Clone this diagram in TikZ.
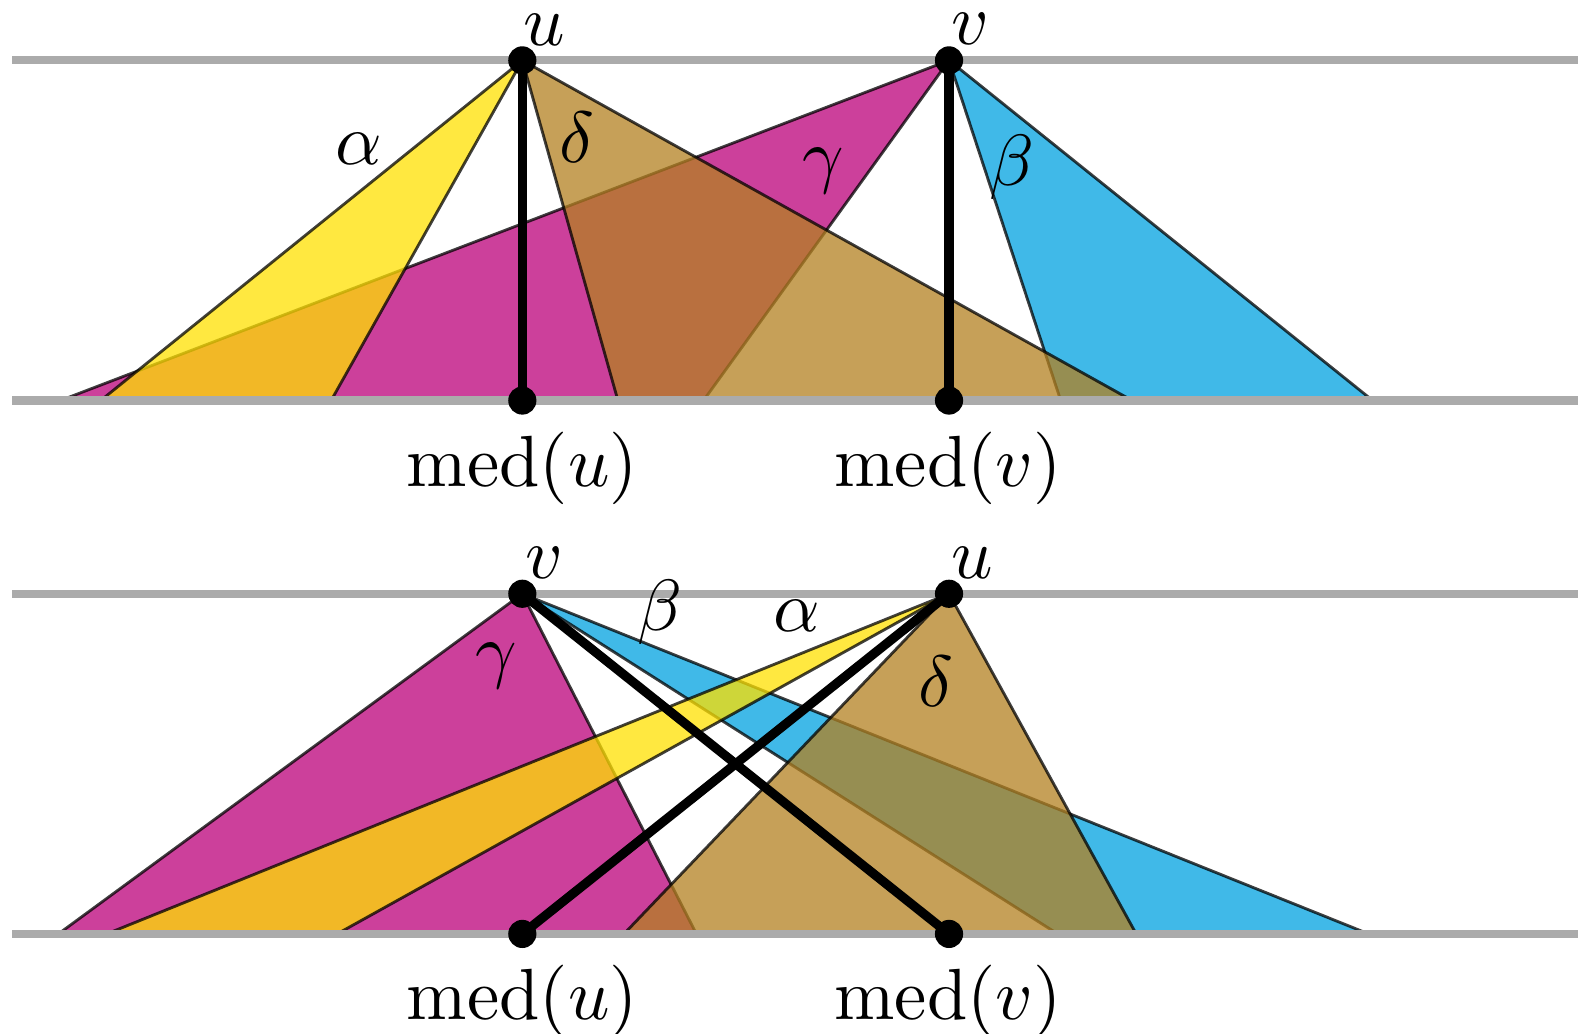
\documentclass[tikz,border=0pt]{standalone}
\definecolor{alphacol}{RGB}{255,224,0}
\definecolor{betacol}{RGB}{0,162,224}
\definecolor{gammacol}{RGB}{187,0,122}
\definecolor{deltacol}{RGB}{179,128,32}
\begin{document}
\begin{tikzpicture}[every node/.style={inner sep=0pt},
	lbl/.style={scale=2.05},
	wedge/.style={draw=black, thick, opacity=.75, line join=round},
	layer/.style={line width=2.3pt, black!33},
	medline/.style={line width=2.6pt},
	dot/.style={circle, fill, inner sep=0pt, minimum size=0.28cm}]
	\useasboundingbox (0,0) rectangle (15.68,10.27);

	% upper picture
	\coordinate (u1) at (5.19,9.67);
	\coordinate (v1) at (9.43,9.67);
	\coordinate (mu1) at (5.19,6.29);
	\coordinate (mv1) at (9.43,6.29);
	\filldraw[wedge, fill=gammacol] (v1) -- (0.60,6.29) -- (6.99,6.29) -- cycle;
	\filldraw[wedge, fill=betacol] (v1) -- (10.54,6.29) -- (13.64,6.29) -- cycle;
	\filldraw[wedge, fill=alphacol] (u1) -- (1.00,6.29) -- (3.29,6.29) -- cycle;
	\filldraw[wedge, fill=deltacol] (u1) -- (6.14,6.29) -- (11.25,6.29) -- cycle;
	\draw[layer] (0.12,9.67) -- (15.68,9.67);
	\draw[layer] (0.12,6.29) -- (15.68,6.29);
	\draw[medline] (u1) -- (mu1);
	\draw[medline] (v1) -- (mv1);
	\node[dot] (du1) at (u1) {};
	\node[dot] (dv1) at (v1) {};
	\node[dot] (dmu1) at (mu1) {};
	\node[dot] (dmv1) at (mv1) {};
	\node[lbl] (lu1) at (5.41,9.97) {$u$};
	\node[lbl] (lv1) at (9.64,9.98) {$v$};
	\node[lbl] (la1) at (3.57,8.79) {$\alpha$};
	\node[lbl] (ld1) at (5.73,8.91) {$\delta$};
	\node[lbl] (lg1) at (8.18,8.57) {$\gamma$};
	\node[lbl] (lb1) at (10.05,8.61) {$\beta$};
	\node[lbl] (lmu1) at (5.19,5.62) {$\mathrm{med}(u)$};
	\node[lbl] (lmv1) at (9.42,5.62) {$\mathrm{med}(v)$};

	% lower picture
	\coordinate (v2) at (5.19,4.37);
	\coordinate (u2) at (9.43,4.37);
	\coordinate (mu2) at (5.19,0.99);
	\coordinate (mv2) at (9.43,0.99);
	\filldraw[wedge, fill=gammacol] (v2) -- (0.58,0.99) -- (6.92,0.99) -- cycle;
	\filldraw[wedge, fill=betacol] (v2) -- (10.51,0.99) -- (13.60,0.99) -- cycle;
	\filldraw[wedge, fill=alphacol] (u2) -- (1.06,0.99) -- (3.35,0.99) -- cycle;
	\filldraw[wedge, fill=deltacol] (u2) -- (6.20,0.99) -- (11.29,0.99) -- cycle;
	\draw[layer] (0.12,4.37) -- (15.68,4.37);
	\draw[layer] (0.12,0.99) -- (15.68,0.99);
	\draw[medline] (v2) -- (mv2);
	\draw[medline] (u2) -- (mu2);
	\node[dot] (dv2) at (v2) {};
	\node[dot] (du2) at (u2) {};
	\node[dot] (dmu2) at (mu2) {};
	\node[dot] (dmv2) at (mv2) {};
	\node[lbl] (lv2) at (5.41,4.68) {$v$};
	\node[lbl] (lu2) at (9.66,4.68) {$u$};
	\node[lbl] (lg2) at (4.93,3.65) {$\gamma$};
	\node[lbl] (lb2) at (6.56,4.19) {$\beta$};
	\node[lbl] (la2) at (7.92,4.15) {$\alpha$};
	\node[lbl] (ld2) at (9.30,3.50) {$\delta$};
	\node[lbl] (lmu2) at (5.19,0.32) {$\mathrm{med}(u)$};
	\node[lbl] (lmv2) at (9.42,0.32) {$\mathrm{med}(v)$};
\end{tikzpicture}
\end{document}
